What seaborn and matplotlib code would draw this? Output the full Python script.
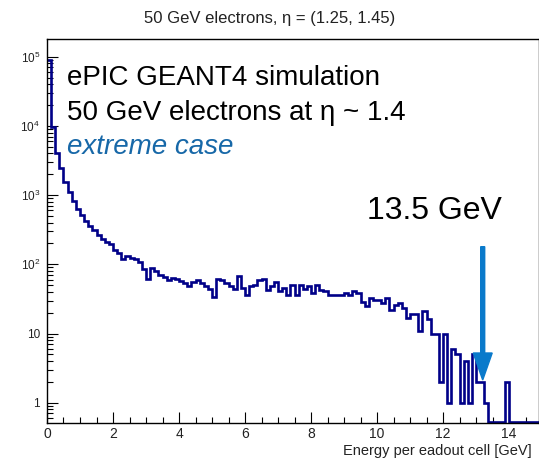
import numpy as np
import pandas as pd
import matplotlib
matplotlib.use("Agg")
import matplotlib.pyplot as plt
from matplotlib.patches import FancyArrow
from matplotlib.ticker import FixedLocator, MultipleLocator, LogLocator, NullFormatter
import seaborn as sns

# ---- data (counts per 0.125 GeV bin) ----
bin_width = 0.125
x_range = (0.0, 15.0)
counts_peak = [90000, 9500, 4100, 2450, 1550, 1100, 820, 640, 510, 420, 360, 310, 265, 232]
counts_falloff = [212, 195, 162, 146, 118, 130, 122, 118, 109, 85, 62, 88, 81, 70, 66, 60]
counts_plateau1 = [63, 61, 58, 54, 48, 56, 60, 53, 48, 44, 34, 61, 60, 53, 48, 44, 67, 46, 36, 48, 51, 60]
counts_plateau2 = [61, 43, 48, 56, 41, 46, 36, 51, 36, 51, 44, 49, 38, 51, 43, 41, 36, 36, 36, 36, 39, 36, 41, 38]
counts_tail = [29, 25, 33, 31, 31, 28, 33, 22, 26, 28, 23, 17, 19, 19, 11, 21, 16, 10, 10, 2,
               10, 1, 6, 5, 1, 4, 1, 5, 2, 2, 1, 0, 0, 0, 0, 2, 0, 0, 0, 0, 0, 0, 0, 0]

x_ticks = [0, 2, 4, 6, 8, 10, 12, 14]
y_ticks = [1, 10, 100, 1000, 10000, 100000]
y_tick_labels = ["1", "10", "$10^{2}$", "$10^{3}$", "$10^{4}$", "$10^{5}$"]

title = "50 GeV electrons, η = (1.25, 1.45)"
x_label = "Energy per eadout cell [GeV]"
line1 = "ePIC GEANT4 simulation"
line2 = "50 GeV electrons at η ~ 1.4"
line3 = "extreme case"
arrow_label = "13.5 GeV"

counts = counts_peak + counts_falloff + counts_plateau1 + counts_plateau2 + counts_tail
n_bins = int(round((x_range[1] - x_range[0]) / bin_width))
counts = counts[:n_bins]
centers = [x_range[0] + (i + 0.5) * bin_width for i in range(n_bins)]
df = pd.DataFrame({"energy": centers, "count": counts})

# ---- style ----
sns.set_theme(style="ticks")
plt.rcParams["font.family"] = ["Liberation Sans", "DejaVu Sans"]
plt.rcParams["mathtext.default"] = "regular"

W, H = 539, 458
fig = plt.figure(figsize=(W / 100, H / 100), dpi=100)
fig.patch.set_facecolor("white")
ax = fig.add_axes([47 / W, 35 / H, 492 / W, 384 / H])
ax.set_facecolor("white")

navy = "#000088"
sns.histplot(data=df, x="energy", weights="count", binwidth=bin_width, binrange=x_range,
             element="step", fill=False, color=navy, linewidth=1.9, ax=ax)
ax.set_yscale("log")

y_lo, y_hi = 10 ** -0.293, 10 ** 5.256
ax.set_xlim(0, 492 / 33.0)
ax.set_ylim(y_lo, y_hi)

# empty bins are drawn along the bottom of the frame, as ROOT does
for ln in ax.lines:
    yd = np.asarray(ln.get_ydata(), dtype=float)
    ln.set_ydata(np.maximum(yd, y_lo * 1.02))
    ln.set_solid_joinstyle("miter")

ax.xaxis.set_major_locator(FixedLocator(x_ticks))
ax.xaxis.set_minor_locator(MultipleLocator(0.5))
ax.yaxis.set_major_locator(FixedLocator(y_ticks))
ax.set_yticklabels(y_tick_labels)
ax.yaxis.set_minor_locator(LogLocator(base=10, subs=np.arange(2, 10)))
ax.yaxis.set_minor_formatter(NullFormatter())
ax.set_xticklabels([str(t) for t in x_ticks])

ax.tick_params(which="major", direction="in", length=8, width=0.8, color="black",
               top=False, right=False)
ax.tick_params(which="minor", direction="in", length=4, width=0.8, color="black",
               top=False, right=False)
ax.tick_params(axis="y", which="major", labelsize=8.5, labelcolor="#222222", pad=5)
ax.tick_params(axis="x", which="major", labelsize=10, labelcolor="#222222", pad=3)
for s in ax.spines.values():
    s.set_color("black")
    s.set_linewidth(1.0)
    s.set_visible(True)
ax.set_xlabel("")
ax.set_ylabel("")

def px(x, y):
    return x / W, 1 - y / H

fig.text(*px(270, 23), title, ha="center", va="baseline", fontsize=12, color="#222222")
fig.text(*px(343, 455.5), x_label, ha="left", va="baseline", fontsize=10.5, color="#222222")
fig.text(*px(67, 85), line1, ha="left", va="baseline", fontsize=20, color="black")
fig.text(*px(67, 120), line2, ha="left", va="baseline", fontsize=20, color="black")
fig.text(*px(67, 154), line3, ha="left", va="baseline", fontsize=20, color="#1768a8",
         style="italic")
fig.text(*px(367, 219), arrow_label, ha="left", va="baseline", fontsize=23, color="black")

arrow = FancyArrow(482.7 / 100, (H - 246.7) / 100, 0, -(380 - 246.7) / 100,
                   width=0.04, head_width=0.19, head_length=0.27,
                   length_includes_head=True, color="#0a7acb",
                   transform=fig.dpi_scale_trans)
fig.patches.append(arrow)

fig.savefig("out.png", dpi=100, facecolor="white")
